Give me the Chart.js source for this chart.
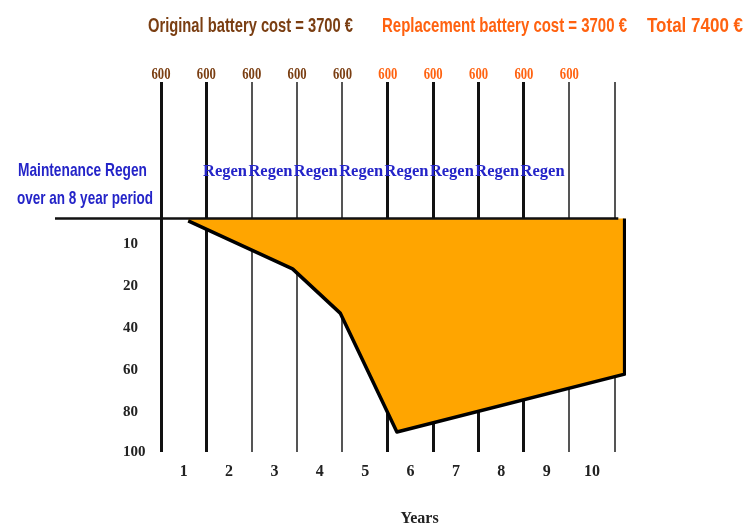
<!DOCTYPE html>
<html>
<head>
<meta charset="utf-8">
<script src="https://cdn.jsdelivr.net/npm/chart.js@4.4.1/dist/chart.umd.min.js"></script>
<style>
  html, body { margin: 0; padding: 0; background: #fff; }
  #wrap { width: 754px; height: 532px; }
</style>
</head>
<body>
<div id="wrap"><canvas id="regenChart" width="754" height="532"></canvas></div>
<script>
// curve of lost capacity over the years (0 at the top line)
const years = [0.6, 2.9, 3.95, 5.2, 10.22, 10.22];
const capacityLoss = [1, 16, 33, 90, 62, 0];

const xLabels = ['1', '2', '3', '4', '5', '6', '7', '8', '9', '10'];
const yTicks = [10, 20, 40, 60, 80, 100];

// 600 per year, first five on the original battery, last five on the replacement
const yearCosts = [600, 600, 600, 600, 600, 600, 600, 600, 600, 600];
const costKind = ['orig', 'orig', 'orig', 'orig', 'orig', 'repl', 'repl', 'repl', 'repl', 'repl'];
const regenYears = [2, 3, 4, 5, 6, 7, 8, 9];

const BROWN = '#7a3e12';
const ORANGE = '#ff6210';
const BLUE = '#2424c8';
const heavyLines = [0, 1, 5, 6, 7, 8];

// uneven y axis: 10 / 20 / 40 / 60 / 80 / 100 are equally spaced
const yStops = [0, 10, 20, 40, 60, 80, 100];
const yStopSteps = [0, 0.6, 1.6, 2.6, 3.6, 4.6, 5.55];

function yStep(v) {
  if (v <= 0) return v * yStopSteps[1] / yStops[1];
  for (let i = 1; i < yStops.length; i++) {
    if (v <= yStops[i]) {
      const t = (v - yStops[i - 1]) / (yStops[i] - yStops[i - 1]);
      return yStopSteps[i - 1] + t * (yStopSteps[i] - yStopSteps[i - 1]);
    }
  }
  return yStopSteps[yStopSteps.length - 1];
}

class StepScale extends Chart.LinearScale {
  buildTicks() {
    return yTicks.map(v => ({ value: v }));
  }
  getPixelForValue(v) {
    const a = yStep(this.min), b = yStep(this.max);
    return this.getPixelForDecimal((yStep(v) - a) / (b - a));
  }
  getValueForPixel(p) {
    // rough inverse, only used for hover which is off
    const d = this.getDecimalForPixel(p);
    return this.min + d * (this.max - this.min);
  }
}
StepScale.id = 'steps';
StepScale.defaults = Chart.LinearScale.defaults;
Chart.register(StepScale);

const overlay = {
  id: 'overlay',
  afterDatasetsDraw(chart) {
    const { ctx, chartArea, scales: { x, y } } = chart;
    ctx.save();

    // top line at 0
    const y0 = y.getPixelForValue(0);
    ctx.strokeStyle = '#111';
    ctx.lineWidth = 2.5;
    ctx.beginPath();
    ctx.moveTo(55, y0);
    ctx.lineTo(x.getPixelForValue(10.08), y0);
    ctx.stroke();

    // 600 on each year line
    ctx.textAlign = 'center';
    ctx.textBaseline = 'middle';
    ctx.font = 'bold 16px "Liberation Serif"';
    yearCosts.forEach((c, i) => {
      ctx.fillStyle = costKind[i] === 'orig' ? BROWN : ORANGE;
      ctx.fillText(String(c), x.getPixelForValue(i), chartArea.top - 7, 19);
    });

    // Regen labels
    ctx.font = 'bold 17px "Liberation Serif"';
    ctx.fillStyle = BLUE;
    regenYears.forEach(yr => {
      ctx.fillText('Regen', x.getPixelForValue(yr - 0.5) - 4, chartArea.top + 90, 44);
    });

    // side note
    ctx.textAlign = 'left';
    ctx.font = 'bold 19px "Liberation Sans Narrow", "Liberation Sans"';
    ctx.fillText('Maintenance Regen', 18, 171, 129);
    ctx.fillText('over an 8 year period', 17, 199, 136);

    // header
    ctx.textBaseline = 'alphabetic';
    ctx.font = 'bold 21px "Liberation Sans Narrow", "Liberation Sans"';
    ctx.fillStyle = BROWN;
    ctx.fillText('Original battery cost = 3700 €', 148, 32, 205);
    ctx.fillStyle = ORANGE;
    ctx.fillText('Replacement battery cost = 3700 €', 382, 32, 245);
    ctx.fillText('Total 7400 €', 647, 32, 96);

    // axis name
    ctx.textAlign = 'center';
    ctx.textBaseline = 'middle';
    ctx.font = 'bold 16px "Liberation Serif"';
    ctx.fillStyle = '#222';
    ctx.fillText('Years', x.getPixelForValue(5.7), 519);

    ctx.restore();
  }
};

new Chart(document.getElementById('regenChart'), {
  type: 'line',
  data: {
    datasets: [{
      data: years.map((yr, i) => ({ x: yr, y: capacityLoss[i] })),
      borderColor: '#000',
      borderWidth: 3.5,
      borderJoinStyle: 'round',
      backgroundColor: '#ffa500',
      fill: 'origin',
      pointRadius: 0,
      tension: 0
    }]
  },
  options: {
    responsive: false,
    animation: false,
    events: [],
    layout: { padding: { left: 123, right: 128, top: 82, bottom: 0 } },
    plugins: { legend: { display: false }, tooltip: { enabled: false } },
    scales: {
      x: {
        type: 'linear',
        min: 0,
        max: 10.25,
        afterFit: s => { s.height = 80; },
        border: { display: false },
        grid: {
          drawTicks: false,
          color: c => heavyLines.includes(c.index) ? '#111' : '#555',
          lineWidth: c => heavyLines.includes(c.index) ? 3 : 2
        },
        ticks: {
          stepSize: 1,
          includeBounds: false,
          autoSkip: false,
          maxRotation: 0,
          padding: 10,
          labelOffset: 22.7,
          color: '#222',
          font: { family: '"Liberation Serif"', size: 16, weight: 'bold' },
          callback: v => xLabels[v] ?? ''
        }
      },
      y: {
        type: 'steps',
        reverse: true,
        min: -54,
        max: 100,
        afterFit: s => { s.width = 38; },
        border: { display: false },
        grid: { display: false, drawTicks: false },
        ticks: {
          crossAlign: 'far',
          padding: 11,
          color: '#222',
          font: { family: '"Liberation Serif"', size: 15, weight: 'bold' },
          callback: v => String(v)
        }
      }
    }
  },
  plugins: [overlay]
});
</script>
</body>
</html>
